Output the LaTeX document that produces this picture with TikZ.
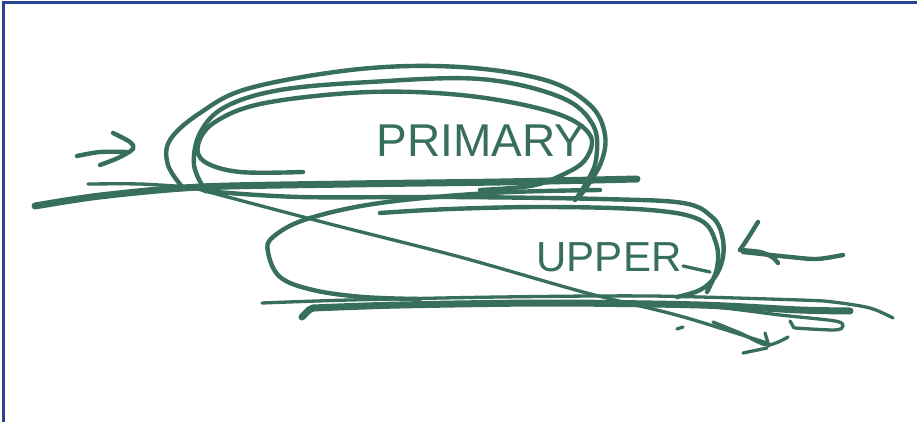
\documentclass[tikz,border=0pt]{standalone}
\usepackage{fontspec}
\setmainfont{Liberation Sans}
\definecolor{ink}{RGB}{55,110,94}
\definecolor{frameblue}{RGB}{40,66,150}
\begin{document}
\begin{tikzpicture}[x=1pt,y=-1pt,
  pen/.style={draw=ink,line width=4.4,line cap=round,line join=round},
  thinpen/.style={draw=ink,line width=3.3,line cap=round,line join=round},
  thickpen/.style={draw=ink,line width=7,line cap=round,line join=round},
  label/.style={text=ink,inner sep=0pt,font=\fontsize{46}{46}\selectfont}]
\useasboundingbox (0,0) rectangle (917,422);
\fill[white] (0,0) rectangle (917,422);
\draw[frameblue,line width=3] (3.5,422) -- (3.5,2.5) -- (917,2.5);
% primary loops
\draw[pen] plot[smooth,tension=0.6] coordinates {(183,188) (168,165) (170,140) (200,113) (250,88) (360,69) (460,67) (545,80) (590,105) (605,135) (600,165) (580,196)};
\draw[pen] plot[smooth,tension=0.6] coordinates {(205,190) (194,165) (200,133) (225,107) (280,90) (370,82) (480,79) (560,97) (593,125) (596,160) (585,185) (575,200)};
\draw[pen] plot[smooth,tension=0.6] coordinates {(303,172) (240,172) (205,162) (198,145) (215,122) (265,103) (370,92) (470,96) (555,113) (590,135) (585,160) (560,176) (530,186) (480,190)};
% primary base lines
\draw[thickpen] plot[smooth,tension=0.5] coordinates {(35,206) (100,196) (200,187) (350,184) (500,182) (637,179)};
\draw[thinpen] plot[smooth] coordinates {(88,184) (140,184) (190,187)};
% upper loops
\draw[pen] plot[smooth,tension=0.6] coordinates {(205,191) (300,197) (450,197) (600,199) (683,203) (712,217) (722,235) (723,257) (715,277) (700,290) (677,297)};
\draw[pen] plot[smooth,tension=0.6] coordinates {(380,213) (450,209) (550,207) (650,210) (700,220) (716,243) (717,268) (707,292)};
\draw[pen] plot[smooth,tension=0.6] coordinates {(600,190) (490,193) (380,203) (307,219) (273,237) (268,252) (280,277) (313,290) (363,297) (420,299)};
% diagonal
\draw[thinpen] plot[smooth,tension=0.5] coordinates {(190,187) (330,224) (460,257) (583,292) (680,316) (767,343)};
\draw[thinpen] plot[smooth] coordinates {(713,322) (740,333) (767,345) (788,337)};
\draw[thinpen] (765,333) -- (769,346);
\draw[thinpen] (743,353) -- (767,348);
\draw[thinpen] (677,329) -- (683,327);
% upper base lines
\draw[thinpen] plot[smooth,tension=0.5] coordinates {(262,303) (350,300) (500,297) (650,296) (800,300) (833,302) (870,308) (893,318)};
\draw[thickpen] (302,317) -- (309,310) -- (313,308);
\draw[thickpen] plot[smooth,tension=0.5] coordinates {(313,308) (400,305) (550,303) (700,305) (800,310) (850,311)};
\draw[thinpen] plot[smooth,tension=0.5] coordinates {(560,302) (700,306) (780,315) (835,321) (843,326) (835,330) (795,328)};
\draw[thinpen] (790,321) -- (794,328);
% arrows
\draw[pen] plot[smooth] coordinates {(77,156) (100,152) (127,152)};
\draw[pen] plot[smooth] coordinates {(113,133) (130,142) (133,149) (118,158) (100,165)};
\draw[pen] plot[smooth] coordinates {(758,222) (748,238) (740,250)};
\draw[pen] plot[smooth] coordinates {(740,250) (760,252) (772,257) (778,263)};
\draw[pen] plot[smooth] coordinates {(743,252) (790,257) (817,259) (843,255)};
% labels
\node[label] (primary) at (481,141) {PRIMARY};
\node[label,font=\fontsize{42}{42}\selectfont] (upper) at (609,257) {UPPER};
\draw[thinpen] (683,266) -- (710,272);
\end{tikzpicture}
\end{document}
